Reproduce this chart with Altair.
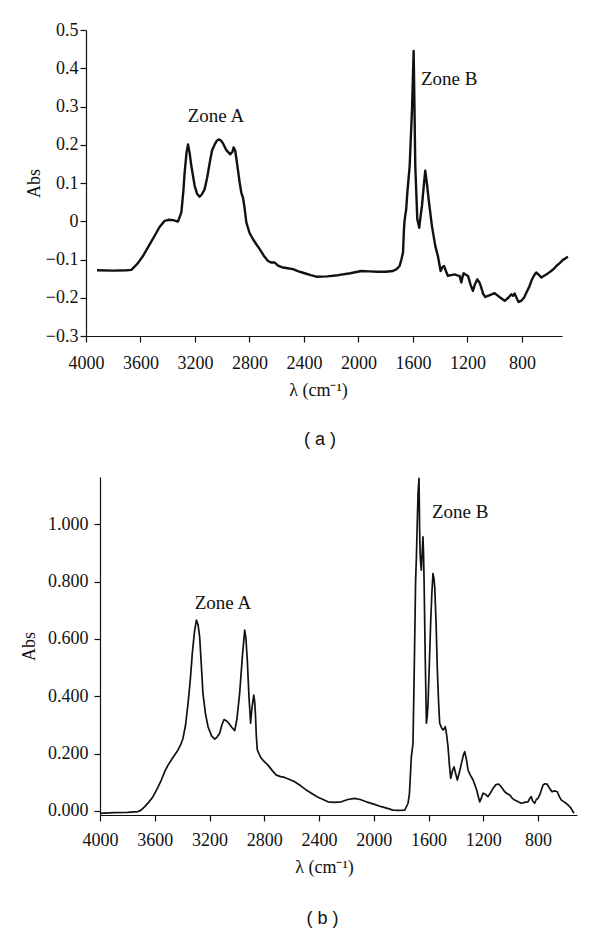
import altair as alt
import pandas as pd

# ---------------- panel (a) ----------------
wave_a = [3919, 3800, 3700, 3667, 3620, 3582, 3540, 3496, 3460, 3423, 3390, 3361, 3325, 3300,
          3285, 3276, 3262, 3251, 3240, 3227, 3202, 3185, 3166, 3150, 3129, 3110, 3092, 3075,
          3055, 3040, 3026, 3010, 2995, 2970, 2941, 2925, 2916, 2905, 2897, 2885, 2872, 2860,
          2848, 2838, 2823, 2800, 2774, 2750, 2725, 2695, 2664, 2640, 2615, 2590, 2554, 2520,
          2481, 2440, 2395, 2350, 2310, 2230, 2150, 2060, 1979, 1920, 1857, 1800, 1747, 1720,
          1698, 1685, 1673, 1666, 1662, 1657, 1650, 1640, 1624, 1607, 1600, 1595, 1589, 1583,
          1568, 1554, 1545, 1534, 1520, 1510, 1498, 1485, 1461, 1436, 1417, 1397, 1384, 1372,
          1358, 1343, 1320, 1294, 1270, 1257, 1245, 1236, 1228, 1212, 1196, 1178, 1160, 1145,
          1128, 1112, 1099, 1085, 1069, 1040, 1001, 965, 927, 900, 878, 866, 854, 840, 825,
          805, 785, 765, 744, 730, 719, 708, 695, 676, 658, 640, 622, 605, 585, 565, 548, 525,
          499, 480, 462]
abs_a = [-0.128, -0.129, -0.128, -0.127, -0.110, -0.091, -0.065, -0.038, -0.015, 0.001, 0.004,
         0.003, -0.001, 0.023, 0.080, 0.127, 0.180, 0.201, 0.180, 0.145, 0.092, 0.072, 0.064,
         0.070, 0.084, 0.115, 0.153, 0.185, 0.201, 0.210, 0.214, 0.211, 0.204, 0.186, 0.175,
         0.182, 0.193, 0.185, 0.166, 0.135, 0.101, 0.075, 0.062, 0.040, -0.003, -0.030, -0.047,
         -0.060, -0.073, -0.090, -0.104, -0.108, -0.108, -0.116, -0.121, -0.123, -0.125, -0.131,
         -0.136, -0.141, -0.145, -0.144, -0.141, -0.136, -0.130, -0.131, -0.132, -0.132, -0.130,
         -0.125, -0.117, -0.100, -0.082, -0.021, 0.000, 0.014, 0.030, 0.080, 0.145, 0.293, 0.380,
         0.445, 0.300, 0.145, 0.005, -0.017, 0.010, 0.040, 0.095, 0.132, 0.100, 0.058, -0.012,
         -0.065, -0.091, -0.130, -0.120, -0.117, -0.130, -0.143, -0.141, -0.139, -0.142, -0.143,
         -0.160, -0.145, -0.136, -0.140, -0.143, -0.165, -0.182, -0.165, -0.152, -0.160, -0.173,
         -0.190, -0.198, -0.194, -0.188, -0.198, -0.208, -0.200, -0.191, -0.195, -0.189, -0.200,
         -0.211, -0.208, -0.200, -0.185, -0.169, -0.155, -0.147, -0.140, -0.134, -0.140, -0.147,
         -0.143, -0.139, -0.135, -0.130, -0.124, -0.117, -0.110, -0.101, -0.097, -0.093]

# ---------------- panel (b) ----------------
wave_b = [4000, 3900, 3800, 3722, 3700, 3673, 3645, 3613, 3580, 3552, 3525, 3503, 3465, 3430,
          3410, 3394, 3375, 3357, 3340, 3326, 3310, 3296, 3284, 3272, 3260, 3248, 3230, 3211,
          3185, 3162, 3145, 3126, 3110, 3094, 3078, 3060, 3038, 3016, 3000, 2980, 2960, 2943,
          2934, 2924, 2912, 2900, 2890, 2877, 2870, 2865, 2858, 2851, 2835, 2822, 2800, 2773,
          2740, 2712, 2680, 2651, 2615, 2578, 2540, 2493, 2456, 2408, 2370, 2335, 2290, 2237,
          2190, 2140, 2100, 2055, 2000, 1945, 1900, 1860, 1820, 1774, 1750, 1740, 1726, 1714,
          1708, 1701, 1695, 1689, 1683, 1677, 1670, 1666, 1662, 1657, 1653, 1647, 1641, 1637,
          1633, 1625, 1616, 1610, 1604, 1594, 1584, 1576, 1568, 1562, 1555, 1545, 1536, 1527,
          1519, 1505, 1494, 1486, 1478, 1468, 1458, 1448, 1438, 1426, 1414, 1402, 1390, 1375,
          1360, 1346, 1336, 1324, 1312, 1295, 1275, 1250, 1227, 1215, 1202, 1185, 1166, 1150,
          1129, 1108, 1088, 1066, 1044, 1025, 1007, 990, 971, 945, 922, 898, 874, 860, 850, 840,
          825, 813, 801, 785, 764, 750, 735, 715, 698, 680, 660, 645, 630, 605, 581, 560, 538]
abs_b = [-0.008, -0.006, -0.005, -0.002, 0.003, 0.015, 0.030, 0.050, 0.080, 0.108, 0.140, 0.160,
         0.188, 0.213, 0.232, 0.253, 0.300, 0.375, 0.460, 0.549, 0.625, 0.666, 0.650, 0.607,
         0.510, 0.410, 0.340, 0.294, 0.262, 0.251, 0.258, 0.271, 0.300, 0.319, 0.315, 0.306,
         0.292, 0.280, 0.320, 0.410, 0.540, 0.631, 0.600, 0.526, 0.400, 0.306, 0.360, 0.404,
         0.380, 0.340, 0.260, 0.213, 0.196, 0.184, 0.172, 0.160, 0.140, 0.125, 0.120, 0.117,
         0.110, 0.102, 0.090, 0.073, 0.062, 0.048, 0.040, 0.032, 0.030, 0.032, 0.040, 0.044,
         0.040, 0.032, 0.024, 0.015, 0.009, 0.003, 0.002, 0.003, 0.027, 0.060, 0.189, 0.236,
         0.400, 0.607, 0.800, 0.886, 1.000, 1.107, 1.160, 1.000, 0.898, 0.860, 0.840, 0.900,
         0.956, 0.900, 0.805, 0.550, 0.306, 0.330, 0.375, 0.520, 0.666, 0.760, 0.828, 0.815,
         0.781, 0.650, 0.491, 0.380, 0.306, 0.290, 0.282, 0.288, 0.294, 0.265, 0.224, 0.160,
         0.114, 0.140, 0.154, 0.130, 0.108, 0.135, 0.166, 0.195, 0.207, 0.180, 0.143, 0.125,
         0.108, 0.075, 0.032, 0.045, 0.062, 0.058, 0.050, 0.062, 0.079, 0.092, 0.094, 0.082,
         0.067, 0.060, 0.056, 0.045, 0.038, 0.032, 0.027, 0.030, 0.032, 0.045, 0.050, 0.035,
         0.027, 0.040, 0.044, 0.060, 0.091, 0.095, 0.094, 0.078, 0.067, 0.070, 0.067, 0.050,
         0.038, 0.030, 0.021, 0.010, -0.008]

# ---------------- annotations ----------------
zone_text = ["Zone A", "Zone B"]
zone_a_w = [3046, 1541]
zone_a_v = [0.275, 0.371]
zone_b_w = [3102, 1575]
zone_b_v = [0.725, 1.042]

x_ticks = [4000, 3600, 3200, 2800, 2400, 2000, 1600, 1200, 800]
ya_ticks = [-0.3, -0.2, -0.1, 0, 0.1, 0.2, 0.3, 0.4, 0.5]
yb_ticks = [0, 0.2, 0.4, 0.6, 0.8, 1.0]

SERIF = "Liberation Serif"
X_TITLE = "λ (cm⁻¹)"


def panel(waves, vals, zw, zv, xend, xrange, ydomain, yticks, ylabel_expr, width, height,
          caption, cap_dx, cap_offset, stroke_w, x_title_x, ylab_pad, ytitle_pad, xlab_pad,
          xtitle_pad, y_offset):
    df = pd.DataFrame({"w": waves, "v": vals})
    ann = pd.DataFrame({"w": zw, "v": zv, "t": zone_text})
    xs = alt.Scale(domain=[4000, xend], range=xrange, nice=False, zero=False)
    ys = alt.Scale(domain=ydomain, nice=False, zero=False)
    xax = alt.Axis(values=x_ticks, format="d", title=X_TITLE,
                   labelPadding=xlab_pad, titlePadding=xtitle_pad,
                   labelFlush=False, labelOverlap=False,
                   titleX=x_title_x, titleAlign="center")
    yax = alt.Axis(values=yticks, labelExpr=ylabel_expr, title="Abs",
                   labelPadding=ylab_pad, titlePadding=ytitle_pad,
                   labelFlush=False, labelOverlap=False, offset=y_offset)
    enc_x = alt.X("w:Q", scale=xs, axis=xax)
    enc_y = alt.Y("v:Q", scale=ys, axis=yax)
    line = alt.Chart(df).mark_line(color="#111111", strokeWidth=stroke_w,
                                   strokeJoin="round", clip=False).encode(
        x=enc_x, y=enc_y, order="w:Q")
    t1 = alt.Chart(ann.iloc[[0]]).mark_text(font=SERIF, fontSize=19, color="#111111",
                                            align="center", baseline="middle").encode(
        x=enc_x, y=enc_y, text="t:N")
    t2 = alt.Chart(ann.iloc[[1]]).mark_text(font=SERIF, fontSize=19, color="#111111",
                                            align="left", baseline="middle").encode(
        x=enc_x, y=enc_y, text="t:N")
    return alt.layer(line, t1, t2).properties(
        width=width, height=height,
        title=alt.TitleParams(caption, orient="bottom", anchor="middle", font="Liberation Sans",
                              fontSize=18, fontWeight="normal", color="#111111",
                              dx=cap_dx, offset=cap_offset),
    )


top = panel(wave_a, abs_a, zone_a_w, zone_a_v, 506, [-14, 462], [-0.3, 0.5], ya_ticks,
            "datum.value == 0 ? '0' : format(datum.value, '.1f')",
            462, 306, "( a )", -11, 32, 2.4, 218, 2, 2, 12, 9, 14)
bottom = panel(wave_b, abs_b, zone_b_w, zone_b_v, 516, [0, 477], [-0.014, 1.165], yb_ticks,
               "format(datum.value, '.3f')",
               477, 338, "( b )", -16, 34, 1.7, 224, 6, 9, 10, 9, 0)

chart = alt.concat(top, bottom, columns=1, spacing=28).properties(
    padding={"left": 12, "top": 13, "right": 5, "bottom": 5}
).configure_view(stroke=None).configure_axis(
    grid=False, domainColor="#111111", tickColor="#111111", labelColor="#111111",
    titleColor="#111111", labelFont=SERIF, titleFont=SERIF, labelFontSize=18,
    titleFontSize=18, titleFontWeight="normal", tickSize=6, domainWidth=1.2, tickWidth=1.2,
    labelOverlap=False,
)

chart.save("out.html", embed_options={"renderer": "svg", "actions": False})
